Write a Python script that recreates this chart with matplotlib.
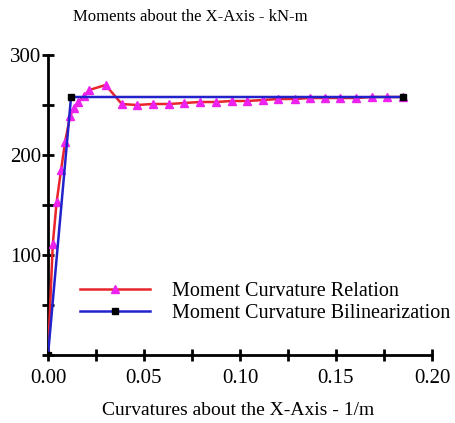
import matplotlib
matplotlib.use("Agg")
import matplotlib.pyplot as plt
from matplotlib.ticker import MultipleLocator

plt.rcParams['font.family'] = ['Liberation Serif', 'DejaVu Serif']

# Moment-curvature relation (red, triangle markers)
rel_curv = [0, 0.0025, 0.0045, 0.0068, 0.0089, 0.0115, 0.0135, 0.0158, 0.0188, 0.0215,
            0.030, 0.0384, 0.0462, 0.0549, 0.0632, 0.0710, 0.079, 0.0875, 0.0957, 0.1038,
            0.1121, 0.1200, 0.1286, 0.1365, 0.1443, 0.1521, 0.1604, 0.1686, 0.1767, 0.185]
rel_mom = [0, 111, 153, 185, 213, 239, 247, 253, 259, 265,
           270, 251, 250, 251, 251, 252, 253, 253, 254, 254,
           255, 256, 256, 257, 257, 257, 257, 258, 258, 258]

# Bilinearization (blue, square markers)
bil_curv = [0, 0.012, 0.185]
bil_mom = [0, 258, 258]

x_ticks = [0.00, 0.05, 0.10, 0.15, 0.20]
x_labels = ["0.00", "0.05", "0.10", "0.15", "0.20"]
y_ticks = [100, 200, 300]
y_labels = ["100", "200", "300"]

fig = plt.figure(figsize=(4.56, 4.23), dpi=100)
ax = fig.add_axes([48/456, 1-355/423, (432-48)/456, (355-55)/423])

ax.plot(rel_curv, rel_mom, color='#e8242c', lw=1.8, marker='^', markersize=5.5,
        markerfacecolor='#ee22ee', markeredgecolor='#ee22ee', label='Moment Curvature Relation', zorder=3)
ax.plot(bil_curv, bil_mom, color='#2222cc', lw=1.8, marker='s', markersize=4.5,
        markerfacecolor='black', markeredgecolor='black', label='Moment Curvature Bilinearization', zorder=4)

ax.set_xlim(0, 0.20)
ax.set_ylim(0, 300)
ax.set_xticks(x_ticks)
ax.set_xticklabels(x_labels)
ax.set_yticks(y_ticks)
ax.set_yticklabels(y_labels)
ax.xaxis.set_minor_locator(MultipleLocator(0.025))
ax.yaxis.set_minor_locator(MultipleLocator(50))

for s in ['top', 'right']:
    ax.spines[s].set_visible(False)
for s in ['left', 'bottom']:
    ax.spines[s].set_linewidth(2)
ax.tick_params(which='both', direction='inout', width=2, length=8, labelsize=15, colors='black')
ax.tick_params(axis='x', which='major', pad=6)
ax.tick_params(axis='y', which='major', pad=1)

fig.text(190/456, 1-17/423, 'Moments about the X-Axis - kN-m', ha='center', va='center', fontsize=12)
fig.text(238/456, 1-410/423, 'Curvatures about the X-Axis - 1/m', ha='center', va='center', fontsize=14)

ax.legend(loc='upper left', bbox_to_anchor=(80/456, 1-282/423), bbox_transform=fig.transFigure,
          frameon=False, fontsize=14.5, handlelength=3.5, handletextpad=1.05, labelspacing=0.15,
          borderaxespad=0, borderpad=0)
ax.patch.set_alpha(0)

fig.savefig('out.png', dpi=100)
